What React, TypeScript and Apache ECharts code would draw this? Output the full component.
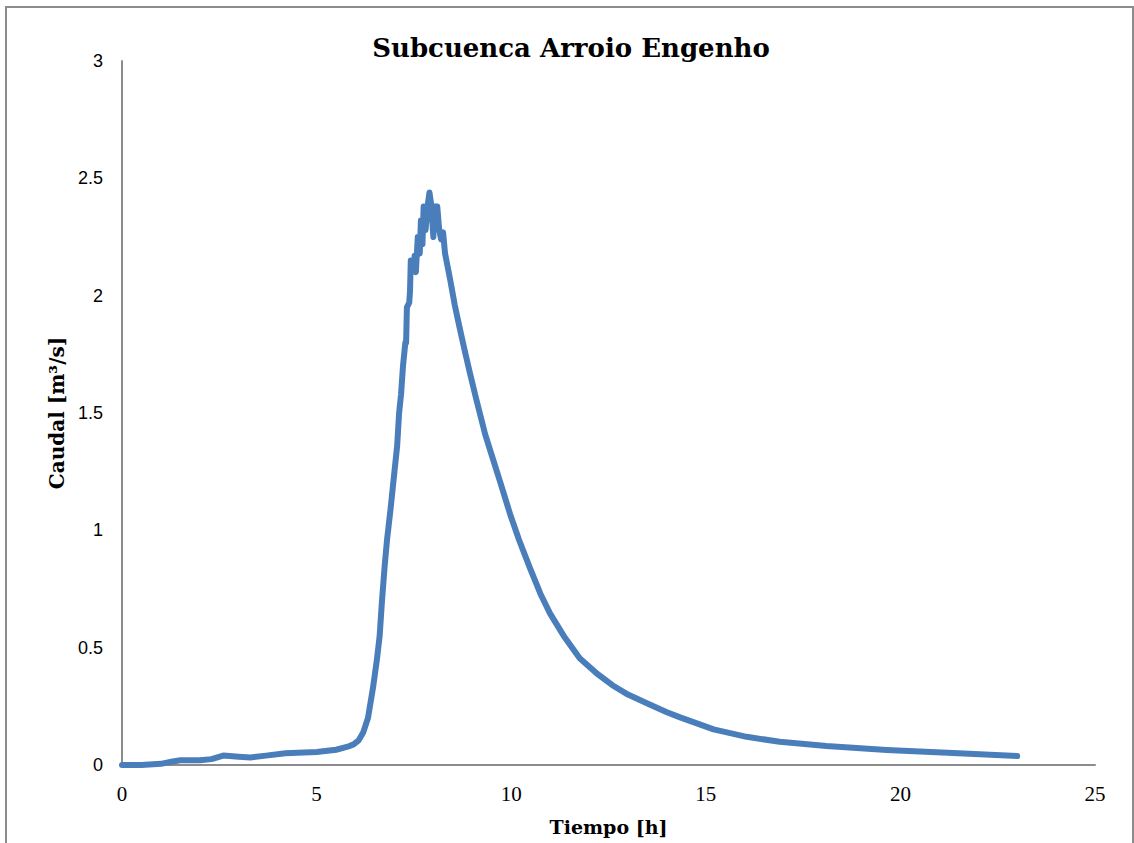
import React, { useEffect, useRef } from "react";
import * as echarts from "echarts";

const titleText = "Subcuenca Arroio Engenho";
const xName = "Tiempo [h]";
const yName = "Caudal [m³/s]";

const timeH = [
  0, 0.5, 1.0, 1.3, 1.5, 2.0, 2.3, 2.6, 3.0, 3.3, 3.7, 4.2, 5.0, 5.5, 5.8, 5.95, 6.08, 6.2, 6.32,
  6.45, 6.55, 6.62, 6.68, 6.75, 6.81, 6.9, 7.0, 7.07, 7.12, 7.17, 7.22, 7.28,
  7.3, 7.32, 7.38, 7.4, 7.42, 7.5, 7.52, 7.55, 7.6, 7.65, 7.68, 7.72, 7.75, 7.8, 7.85, 7.9,
  7.95, 8.0, 8.02, 8.1, 8.15, 8.2, 8.25, 8.3,
  8.43, 8.55, 8.68, 8.8, 8.94, 9.1, 9.33, 9.5, 9.71, 9.97, 10.2, 10.48, 10.75, 11.0, 11.35,
  11.76, 12.2, 12.6, 13.0, 13.5, 14.0, 14.34, 15.2, 16.05, 16.9, 18.1, 19.65, 21.35, 23.0,
];
const caudal = [
  0, 0.0, 0.005, 0.015, 0.02, 0.02, 0.025, 0.04, 0.035, 0.032, 0.04, 0.05, 0.055, 0.065, 0.078, 0.088, 0.105, 0.14, 0.2,
  0.33, 0.45, 0.55, 0.7, 0.85, 0.96, 1.09, 1.25, 1.36, 1.5, 1.58, 1.7, 1.8,
  1.8, 1.95, 1.97, 2.02, 2.15, 2.12, 2.17, 2.1, 2.25, 2.18, 2.32, 2.22, 2.38, 2.28, 2.38, 2.44,
  2.38, 2.25, 2.38, 2.38, 2.28, 2.24, 2.27, 2.18,
  2.07, 1.96, 1.86, 1.77, 1.67, 1.56, 1.41, 1.32, 1.21, 1.07, 0.96, 0.84, 0.73, 0.645, 0.55,
  0.455, 0.39, 0.34, 0.3, 0.262, 0.225, 0.203, 0.152, 0.12, 0.099, 0.081, 0.064, 0.051, 0.038,
];

export default function App() {
  const ref = useRef<HTMLDivElement>(null);
  useEffect(() => {
    if (!ref.current) return;
    const chart = echarts.init(ref.current, null, { renderer: "svg" });
    const data = timeH.map((t, i) => [t, caudal[i]]);
    chart.setOption({
      animation: false,
      backgroundColor: "#ffffff",
      title: {
        text: titleText,
        left: 566,
        top: 30,
        textAlign: "center",
        textStyle: {
          fontFamily: "DejaVu Serif",
          fontWeight: "bold",
          fontSize: 26,
          color: "#000",
        },
      },
      graphic: [
        {
          type: "rect",
          shape: { x: 6, y: 7, width: 1127, height: 900 },
          style: { fill: "none", stroke: "#8c8c8c", lineWidth: 2 },
          silent: true,
        },
      ],
      grid: { left: 122, right: 39, top: 61, bottom: 78, containLabel: false },
      xAxis: {
        type: "value",
        min: 0,
        max: 25,
        interval: 5,
        name: xName,
        nameLocation: "middle",
        nameGap: 52,
        nameTextStyle: {
          fontFamily: "DejaVu Serif",
          fontWeight: "bold",
          fontSize: 19,
          color: "#000",
        },
        axisLine: { show: true, lineStyle: { color: "#8c8c8c", width: 2 } },
        axisTick: { show: false },
        splitLine: { show: false },
        axisLabel: {
          margin: 18,
          fontFamily: "Liberation Serif",
          fontSize: 21,
          color: "#000",
        },
      },
      yAxis: {
        type: "value",
        min: 0,
        max: 3,
        interval: 0.5,
        name: yName,
        nameLocation: "middle",
        nameGap: 55,
        nameRotate: 90,
        nameTextStyle: {
          fontFamily: "DejaVu Serif",
          fontWeight: "bold",
          fontSize: 20,
          color: "#000",
        },
        axisLine: { show: true, lineStyle: { color: "#8c8c8c", width: 2 } },
        axisTick: { show: false },
        splitLine: { show: false },
        axisLabel: {
          margin: 19,
          fontFamily: "Liberation Sans",
          fontSize: 18,
          color: "#000",
        },
      },
      series: [
        {
          type: "line",
          data,
          showSymbol: false,
          smooth: false,
          lineStyle: { color: "#4a7ebb", width: 6, cap: "round", join: "round" },
          itemStyle: { color: "#4a7ebb" },
        },
      ],
    });
    return () => chart.dispose();
  }, []);
  return (
    <div
      ref={ref}
      style={{ position: "fixed", left: 0, top: 0, width: 1134, height: 843, background: "#fff" }}
    />
  );
}
